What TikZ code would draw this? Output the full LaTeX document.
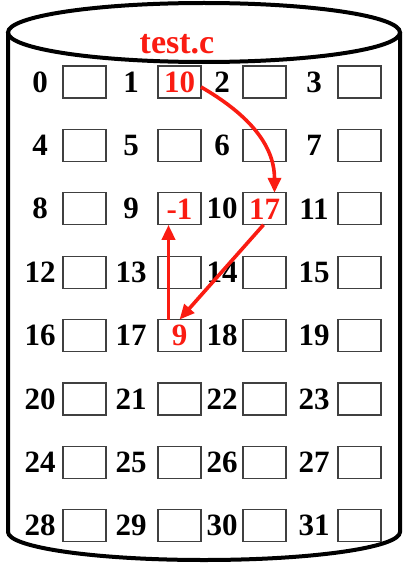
\documentclass[tikz,border=0pt]{standalone}
\usepackage{fontspec}
\setmainfont{Liberation Serif}
\usepackage{xcolor}
\usepackage{tikz}
\usetikzlibrary{arrows.meta, positioning}

\definecolor{ptrred}{RGB}{250,28,18}

\begin{document}
\begin{tikzpicture}[
            x=1pt, y=-1pt,                     % coordenadas en pixeles
            cell/.style={
                rectangle,
                draw=black!75,
                line width=1.3pt,
                minimum width=43pt,
                minimum height=32pt,
                inner sep=0pt,
                outer sep=0pt
            },
            num/.style={
                font=\fontsize{31}{31}\selectfont\bfseries,
                inner sep=0pt
            },
            val/.style={
                num,
                text=ptrred
            },
            drum/.style={
                draw=black,
                line width=4pt
            },
            line/.style={
                draw=ptrred,
                line width=3.6pt,
                -{Triangle[length=15pt, width=13pt]}
            }
        ]
            \useasboundingbox (0,0) rectangle (410,567);

            % --- DISCO ---
            \draw [drum] (204,32.5) ellipse [x radius=196pt, y radius=29.5pt];
            \draw [drum] (8,32.5) -- (8,532)
                arc [start angle=180, end angle=360, x radius=196pt, y radius=28pt]
                -- (400,32.5);

            \node [val, font=\fontsize{34}{34}\selectfont\bfseries] (title) at (177,44) {test.c};

            % --- BLOQUES ---
            \foreach \r in {0,...,7} {
                \foreach \c/\bx/\nx in {0/84.5/40, 1/179.5/131, 2/264.5/222, 3/359.5/314} {
                    \pgfmathtruncatemacro{\i}{4*\r+\c}
                    \node [cell] (cell\i) at (\bx, 82+63.4*\r) {};
                    \node [num] (num\i) at (\nx, 82+63.4*\r) {\i};
                }
            }

            % --- CONTENIDO ---
            \node [val] (v1) at (cell1) {10};
            \node [val] (v9) at (cell9) {-1};
            \node [val] (v10) at (cell10) {17};
            \node [val] (v17) at (cell17) {9};

            % --- ENLACES ---
            \path [line] ([yshift=-5pt]cell1.east) to[out=-30, in=90] ([xshift=10pt]cell10.north);
            \path [line] ([xshift=-1pt]cell10.south) -- (cell17.north);
            \path [line] ([xshift=-11pt]cell17.north) -- ([xshift=-11pt]cell9.south);
        \end{tikzpicture}
\end{document}
